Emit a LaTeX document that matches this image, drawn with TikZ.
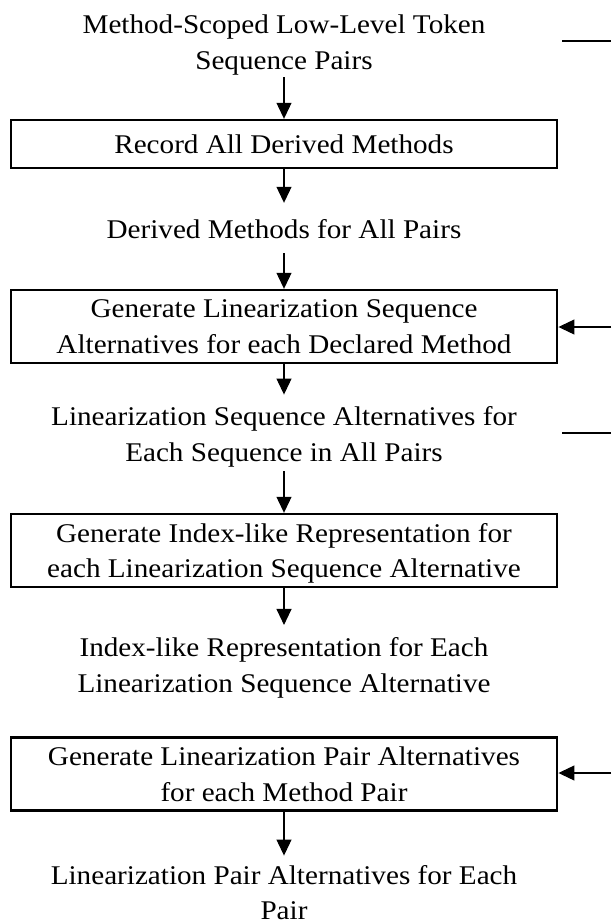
\documentclass[tikz,border=0pt]{standalone}
\usepackage{fontspec}
\setmainfont{Liberation Serif}[FakeStretch=1.08]
\usetikzlibrary{arrows.meta}
\begin{document}
\begin{tikzpicture}[x=1pt,y=-1pt,
  txt/.style={inner sep=0pt, align=center, text depth=0pt, font=\fontsize{27}{35.5}\selectfont},
  box/.style={txt, draw, line width=2.4pt, minimum width=546.5pt},
  arr/.style={line width=1.1pt, -{Triangle[length=16pt,width=15pt]}},
  feed/.style={line width=1.1pt}
]
\useasboundingbox (0,0) rectangle (611,924);

\node[txt] (t0) at (284,42) {Method-Scoped Low-Level Token\\Sequence Pairs};
\node[box, minimum height=48pt] (b1) at (284,144) {Record All Derived Methods};
\node[txt] (t1) at (284,228.5) {Derived Methods for All Pairs};
\node[box, minimum height=73pt] (b2) at (284,326.5) {Generate Linearization Sequence\\Alternatives for each Declared Method};
\node[txt] (t2) at (284,434) {Linearization Sequence Alternatives for\\Each Sequence in All Pairs};
\node[box, minimum height=73pt] (b3) at (284,550.5) {Generate Index-like Representation for\\each Linearization Sequence Alternative};
\node[txt] (t3) at (284,665) {Index-like Representation for Each\\Linearization Sequence Alternative};
\node[box, minimum height=73pt] (b4) at (284,774) {Generate Linearization Pair Alternatives\\for each Method Pair};
\node[txt] (t4) at (284,892.5) {Linearization Pair Alternatives for Each\\Pair};

\draw[arr] ([yshift=-8pt]t0.south) -- (b1.north);
\draw[arr] (b1.south) -- ([yshift=16pt]t1.north);
\draw[arr] ([yshift=-15pt]t1.south) -- (b2.north);
\draw[arr] (b2.south) -- ([yshift=12pt]t2.north);
\draw[arr] ([yshift=-10pt]t2.south) -- (b3.north);
\draw[arr] (b3.south) -- ([yshift=12.6pt]t3.north);
\draw[arr] (b4.south) -- ([yshift=9.5pt]t4.north);

\coordinate (r1a) at (562,41);
\coordinate (r1b) at (611,41);
\draw[feed] (r1a) -- (r1b);
\coordinate (r2) at (611,327);
\draw[arr] (r2) -- (r2 -| b2.east);
\coordinate (r3a) at (562,433);
\coordinate (r3b) at (611,433);
\draw[feed] (r3a) -- (r3b);
\coordinate (r4) at (611,773);
\draw[arr] (r4) -- (r4 -| b4.east);
\end{tikzpicture}
\end{document}
